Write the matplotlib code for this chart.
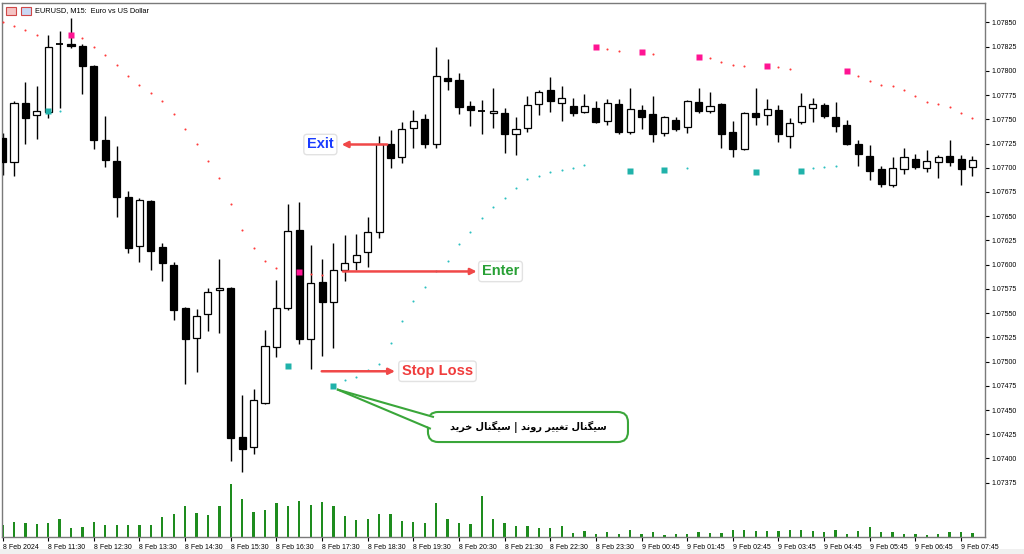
import numpy as np
import matplotlib
matplotlib.use("Agg")
import matplotlib.pyplot as plt
from matplotlib.patches import Rectangle, FancyBboxPatch, Polygon

plt.rcParams['font.family'] = ['Liberation Sans', 'DejaVu Sans']

# EURUSD M15, 8 Feb 10:30 .. 9 Feb 07:45
opens = [
    1.07731, 1.07706, 1.07767, 1.07754, 1.07758, 1.07828, 1.07828, 1.07826, 1.07805, 1.07729,
    1.07707, 1.07670, 1.07619, 1.07666, 1.07618, 1.07600, 1.07555, 1.07524, 1.07549, 1.07574,
    1.07576, 1.07422, 1.07412, 1.07457, 1.07515, 1.07555, 1.07636, 1.07523, 1.07582, 1.07561,
    1.07594, 1.07603, 1.07613, 1.07634, 1.07724, 1.07711, 1.07741, 1.07750, 1.07724, 1.07793,
    1.07791, 1.07764, 1.07759, 1.07757, 1.07756, 1.07735, 1.07741, 1.07766, 1.07780, 1.07767,
    1.07764, 1.07758, 1.07762, 1.07748, 1.07766, 1.07737, 1.07760, 1.07755, 1.07736, 1.07749,
    1.07742, 1.07768, 1.07759, 1.07766, 1.07737, 1.07719, 1.07757, 1.07754, 1.07760, 1.07733,
    1.07747, 1.07762, 1.07765, 1.07752, 1.07744, 1.07724, 1.07712, 1.07699, 1.07682, 1.07699,
    1.07709, 1.07700, 1.07706, 1.07712, 1.07709, 1.07701]
highs = [
    1.07736, 1.07769, 1.07789, 1.07784, 1.07837, 1.07841, 1.07855, 1.07828, 1.07806, 1.07753,
    1.07722, 1.07676, 1.07669, 1.07667, 1.07622, 1.07603, 1.07556, 1.07554, 1.07576, 1.07606,
    1.07577, 1.07466, 1.07472, 1.07533, 1.07584, 1.07663, 1.07665, 1.07620, 1.07606, 1.07622,
    1.07631, 1.07632, 1.07649, 1.07733, 1.07739, 1.07747, 1.07760, 1.07755, 1.07825, 1.07812,
    1.07798, 1.07769, 1.07770, 1.07782, 1.07762, 1.07752, 1.07774, 1.07780, 1.07794, 1.07784,
    1.07772, 1.07776, 1.07769, 1.07771, 1.07771, 1.07782, 1.07765, 1.07774, 1.07753, 1.07752,
    1.07770, 1.07782, 1.07778, 1.07767, 1.07748, 1.07758, 1.07782, 1.07771, 1.07765, 1.07751,
    1.07777, 1.07772, 1.07767, 1.07768, 1.07749, 1.07729, 1.07723, 1.07702, 1.07711, 1.07720,
    1.07714, 1.07718, 1.07713, 1.07729, 1.07713, 1.07712]
lows = [
    1.07693, 1.07692, 1.07725, 1.07730, 1.07751, 1.07762, 1.07824, 1.07776, 1.07719, 1.07701,
    1.07649, 1.07612, 1.07603, 1.07594, 1.07583, 1.07543, 1.07477, 1.07489, 1.07532, 1.07530,
    1.07397, 1.07386, 1.07405, 1.07456, 1.07505, 1.07553, 1.07518, 1.07492, 1.07506, 1.07514,
    1.07583, 1.07594, 1.07598, 1.07628, 1.07700, 1.07705, 1.07720, 1.07720, 1.07720, 1.07780,
    1.07755, 1.07743, 1.07735, 1.07741, 1.07715, 1.07713, 1.07737, 1.07754, 1.07758, 1.07748,
    1.07753, 1.07757, 1.07746, 1.07744, 1.07735, 1.07735, 1.07740, 1.07727, 1.07733, 1.07738,
    1.07736, 1.07757, 1.07756, 1.07720, 1.07711, 1.07718, 1.07744, 1.07744, 1.07727, 1.07720,
    1.07745, 1.07747, 1.07751, 1.07737, 1.07723, 1.07702, 1.07687, 1.07680, 1.07680, 1.07694,
    1.07699, 1.07696, 1.07689, 1.07702, 1.07682, 1.07692]
closes = [
    1.07706, 1.07767, 1.07751, 1.07759, 1.07825, 1.07827, 1.07826, 1.07805, 1.07729, 1.07708,
    1.07670, 1.07617, 1.07667, 1.07614, 1.07602, 1.07553, 1.07523, 1.07547, 1.07572, 1.07576,
    1.07421, 1.07410, 1.07460, 1.07516, 1.07555, 1.07635, 1.07523, 1.07581, 1.07561, 1.07594,
    1.07602, 1.07610, 1.07634, 1.07724, 1.07710, 1.07740, 1.07748, 1.07725, 1.07795, 1.07790,
    1.07763, 1.07760, 1.07759, 1.07759, 1.07735, 1.07740, 1.07765, 1.07778, 1.07769, 1.07772,
    1.07757, 1.07764, 1.07747, 1.07767, 1.07737, 1.07761, 1.07752, 1.07735, 1.07752, 1.07740,
    1.07769, 1.07759, 1.07764, 1.07735, 1.07719, 1.07757, 1.07752, 1.07761, 1.07735, 1.07746,
    1.07764, 1.07766, 1.07753, 1.07743, 1.07725, 1.07714, 1.07697, 1.07683, 1.07700, 1.07711,
    1.07701, 1.07707, 1.07711, 1.07706, 1.07699, 1.07708]
volumes = [
    700, 900, 820, 780, 820, 1060, 540, 620, 900, 740,
    740, 740, 740, 740, 1220, 1380, 1840, 1420, 1340, 1880,
    3200, 2260, 1500, 1640, 2060, 1840, 2180, 1940, 2100, 1840,
    1280, 1020, 1060, 1380, 1380, 940, 900, 820, 2060, 1060,
    820, 780, 2480, 1100, 860, 680, 640, 560, 520, 640,
    260, 380, 200, 300, 200, 440, 200, 320, 120, 180,
    200, 300, 260, 260, 440, 440, 380, 380, 380, 440,
    440, 380, 320, 440, 200, 380, 600, 300, 300, 200,
    200, 120, 200, 320, 320, 260]
# parabolic SAR (nan = not visible)
sar = [
    1.07850, 1.07846, 1.07842, 1.07837, 1.07759, 1.07759, 1.07837, 1.07834, 1.07825, 1.07816,
    1.07806, 1.07795, 1.07785, 1.07777, 1.07769, 1.07755, 1.07740, 1.07725, 1.07707, 1.07689,
    1.07663, 1.07636, 1.07617, 1.07604, 1.07597, 1.07495, 1.07592, 1.07590, 1.07589, 1.07475,
    1.07481, 1.07484, 1.07491, 1.07498, 1.07519, 1.07542, 1.07563, 1.07577, 1.07593, 1.07604,
    1.07621, 1.07634, 1.07648, 1.07660, 1.07669, 1.07679, 1.07688, 1.07692, 1.07696, 1.07698,
    1.07700, 1.07703, 1.07825, 1.07823, 1.07820, 1.07697, 1.07819, 1.07817, 1.07698, np.nan,
    1.07700, 1.07814, 1.07813, 1.07809, 1.07806, 1.07805, 1.07696, 1.07805, 1.07804, 1.07802,
    1.07697, 1.07700, 1.07701, 1.07702, 1.07800, 1.07795, 1.07790, 1.07785, 1.07784, 1.07780,
    1.07774, 1.07768, 1.07766, 1.07763, 1.07757, 1.07751]

tick_labels = ['8 Feb 2024', '8 Feb 11:30', '8 Feb 12:30', '8 Feb 13:30', '8 Feb 14:30',
               '8 Feb 15:30', '8 Feb 16:30', '8 Feb 17:30', '8 Feb 18:30', '8 Feb 19:30',
               '8 Feb 20:30', '8 Feb 21:30', '8 Feb 22:30', '8 Feb 23:30', '9 Feb 00:45',
               '9 Feb 01:45', '9 Feb 02:45', '9 Feb 03:45', '9 Feb 04:45', '9 Feb 05:45',
               '9 Feb 06:45', '9 Feb 07:45']
price_ticks = [1.07375, 1.07400, 1.07425, 1.07450, 1.07475, 1.07500, 1.07525, 1.07550,
               1.07575, 1.07600, 1.07625, 1.07650, 1.07675, 1.07700, 1.07725, 1.07750,
               1.07775, 1.07800, 1.07825, 1.07850]

bubble_text = 'سیگنال تغییر روند | سیگنال خرید'

# arabic presentation forms: isolated, final, initial, medial
FORMS = {
    'ا': ('\uFE8D', '\uFE8E', None, None),
    'ت': ('\uFE95', '\uFE96', '\uFE97', '\uFE98'),
    'خ': ('\uFEA5', '\uFEA6', '\uFEA7', '\uFEA8'),
    'د': ('\uFEA9', '\uFEAA', None, None),
    'ر': ('\uFEAD', '\uFEAE', None, None),
    'س': ('\uFEB1', '\uFEB2', '\uFEB3', '\uFEB4'),
    'غ': ('\uFECD', '\uFECE', '\uFECF', '\uFED0'),
    'ل': ('\uFEDD', '\uFEDE', '\uFEDF', '\uFEE0'),
    'ن': ('\uFEE5', '\uFEE6', '\uFEE7', '\uFEE8'),
    'و': ('\uFEED', '\uFEEE', None, None),
    'گ': ('\uFB92', '\uFB93', '\uFB94', '\uFB95'),
    'ی': ('\uFBFC', '\uFBFD', '\uFBFE', '\uFBFF'),
}


def shape_fa(text):
    out = []
    for k, ch in enumerate(text):
        if ch not in FORMS:
            out.append(ch)
            continue
        prev = text[k - 1] if k > 0 else ''
        nxt = text[k + 1] if k + 1 < len(text) else ''
        join_prev = prev in FORMS and FORMS[prev][2] is not None
        join_next = FORMS[ch][2] is not None and nxt in FORMS
        iso, fin, ini, med = FORMS[ch]
        if join_prev and join_next:
            out.append(med)
        elif join_prev:
            out.append(fin)
        elif join_next:
            out.append(ini)
        else:
            out.append(iso)
    return ''.join(reversed(out))


n = len(opens)
idx = np.arange(n)

fig = plt.figure(figsize=(10.24, 5.54), dpi=100)
ax = fig.add_axes([2 / 1024, 17 / 554, 983 / 1024, 534 / 554])
ax.set_xlim(-0.05, 86.1)
ax.set_ylim(1.07319, 1.07870)
ax.patch.set_visible(False)

# volumes on their own scale at the bottom
axv = ax.twinx()
axv.set_zorder(ax.get_zorder() - 1)
axv.bar(idx, volumes, width=0.2, color='#1e8c1e')
axv.set_ylim(0, 32040)
axv.set_yticks([])
for s in axv.spines.values():
    s.set_visible(False)

# candles
body_w = 0.62
for i in range(n):
    o, h, l, c = opens[i], highs[i], lows[i], closes[i]
    ax.vlines(i, l, h, color='black', lw=1, zorder=2)
    if abs(c - o) < 0.000012:
        ax.hlines((o + c) / 2, i - body_w / 2, i + body_w / 2, color='black', lw=1.3, zorder=3)
    else:
        fc = 'white' if c > o else 'black'
        ax.add_patch(Rectangle((i - body_w / 2, min(o, c)), body_w, abs(c - o),
                               fc=fc, ec='black', lw=0.9, zorder=3))

# parabolic SAR dots and reversal squares
prev_dir = None
for i in range(n):
    if np.isnan(sar[i]):
        continue
    buy = sar[i] < closes[i]
    col_sq = '#20b2aa' if buy else '#ff1493'
    col_dot = '#2cc0c0' if buy else '#ff3b3b'
    if prev_dir is not None and buy != prev_dir:
        ax.plot(i, sar[i], 's', ms=4.6, color=col_sq, mec='none', zorder=4)
    else:
        ax.plot(i, sar[i], 'o', ms=1.5, color=col_dot, mec='none', zorder=4)
    prev_dir = buy

# annotations
arrow_kw = dict(arrowstyle='-|>', color='#f04848', lw=1.8, mutation_scale=9, shrinkA=0, shrinkB=0)
box_kw = dict(boxstyle='round,pad=0.22', fc='white', ec='#e2e2e2', lw=1)

ax.annotate('', xy=(29.72, 1.07724), xytext=(33.7, 1.07724), arrowprops=arrow_kw, zorder=8)
ax.text(27.85, 1.07724, 'Exit', color='#1a3cff', fontsize=10.5, fontweight='bold',
        ha='center', va='center', bbox=box_kw, zorder=9)

ax.annotate('', xy=(41.55, 1.07593), xytext=(29.83, 1.07593), arrowprops=arrow_kw, zorder=8)
ax.text(42.0, 1.07593, 'Enter', color='#28a035', fontsize=10.5, fontweight='bold',
        ha='left', va='center', bbox=box_kw, zorder=9)

ax.annotate('', xy=(34.39, 1.07490), xytext=(27.97, 1.07490), arrowprops=arrow_kw, zorder=8)
ax.text(35.0, 1.07490, 'Stop Loss', color='#f03c3c', fontsize=10.5, fontweight='bold',
        ha='left', va='center', bbox=box_kw, zorder=9)

# speech bubble
bx0, bx1, by0, by1 = 37.28, 54.81, 1.07417, 1.07448
ax.add_patch(FancyBboxPatch((bx0, by0), bx1 - bx0, by1 - by0,
                            boxstyle='round,pad=0,rounding_size=0.9', mutation_aspect=1.178e-4,
                            fc='white', ec='#3aa63a', lw=1.5, zorder=6))
tip = (29.39, 1.07471)
ax.add_patch(Polygon([tip, (38.16, 1.074428), (37.98, 1.074294)], closed=True,
                     fc='white', ec='none', zorder=7))
ax.plot([tip[0], 37.72], [tip[1], 1.07443], color='#3aa63a', lw=1.5, zorder=7)
ax.plot([tip[0], 37.45], [tip[1], 1.07431], color='#3aa63a', lw=1.5, zorder=7)
ax.text((bx0 + bx1) / 2, (by0 + by1) / 2, shape_fa(bubble_text), family='DejaVu Sans',
        fontsize=7, fontweight='bold', ha='center', va='center', zorder=8)

# axes
ax.yaxis.tick_right()
ax.set_yticks(price_ticks)
ax.set_yticklabels(['%.5f' % p for p in price_ticks])
ax.set_xticks(idx[::4])
ax.set_xticklabels(tick_labels, ha='left')
ax.tick_params(axis='both', direction='out', length=3, width=0.8, labelsize=5, pad=2, colors='black')
for s in ax.spines.values():
    s.set_color('#7a7a7a')
    s.set_linewidth(1)

# header
fig.text(35 / 1024, 1 - 11 / 554, 'EURUSD, M15:  Euro vs US Dollar', fontsize=5.3, va='center')
fig.add_artist(Rectangle((6 / 1024, 1 - 15 / 554), 10 / 1024, 8 / 554, transform=fig.transFigure,
                         fc='#f4c4c4', ec='#d04848', lw=0.8))
fig.add_artist(Rectangle((21 / 1024, 1 - 15 / 554), 10 / 1024, 8 / 554, transform=fig.transFigure,
                         fc='#c8d8f4', ec='#d04848', lw=0.8))
fig.add_artist(Rectangle((0, 0), 1, 5 / 554, transform=fig.transFigure, fc='#f0f0f0', ec='none'))

fig.savefig('out.png', dpi=100)
